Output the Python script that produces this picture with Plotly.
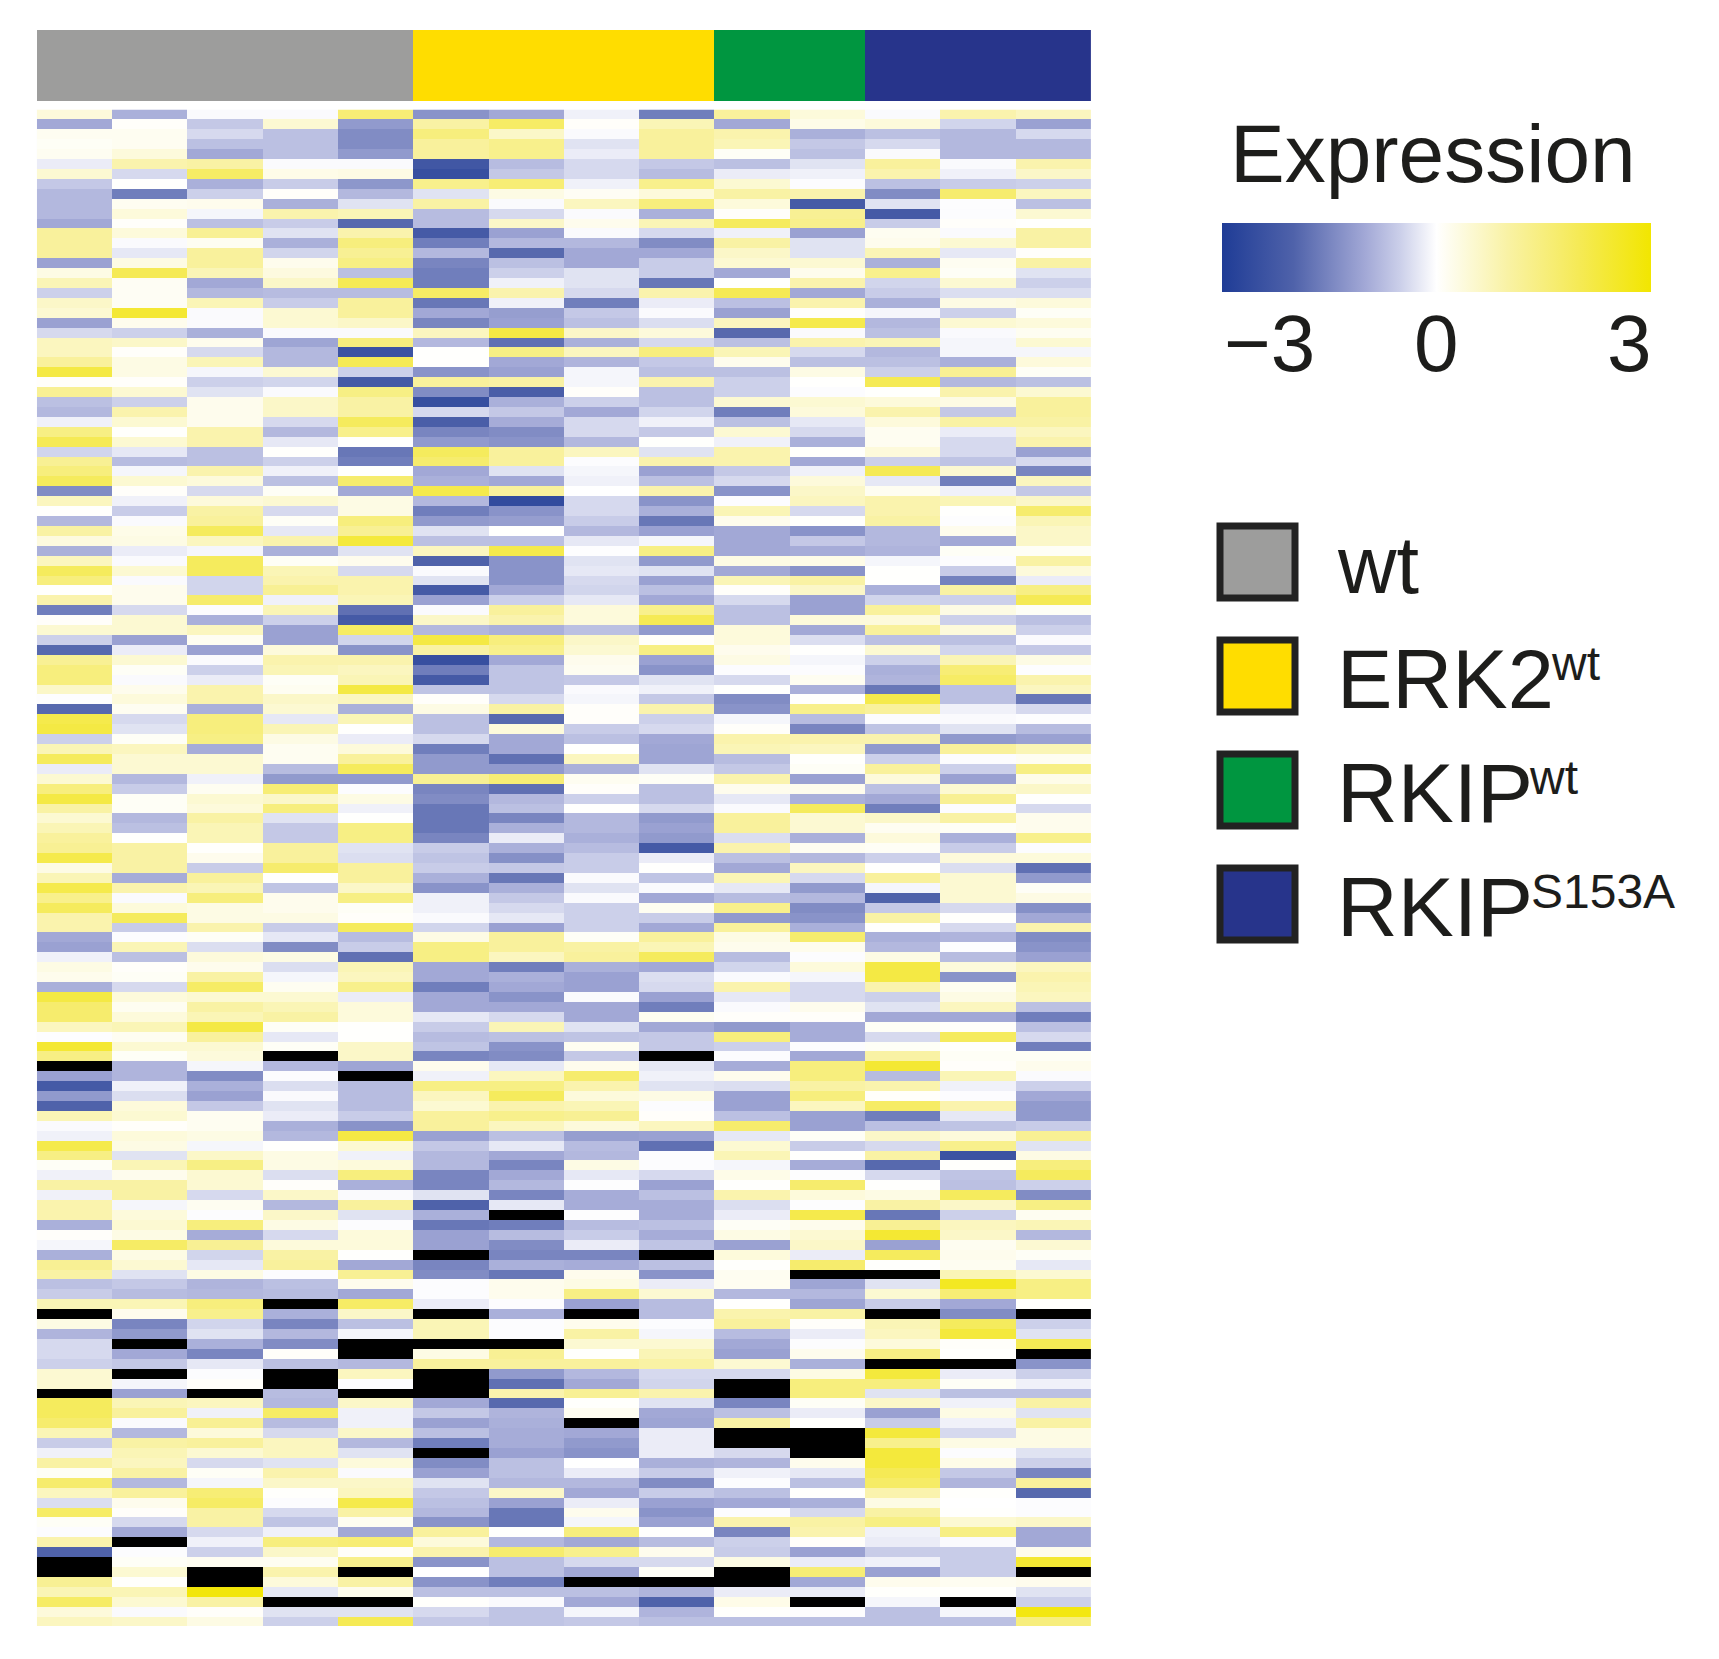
import plotly.graph_objects as go

W, H = 1703, 1643   # the page adds an 8 px margin on the left and the top
N = None  # missing value, drawn black

sample_00 = [.4,-1.0,.15,.1,.15,-.2,.5,-.6,-.8,-.8,-.8,-1.0,1.1,1.1,1.1,-1.1,.3,.8,-.5,.6,.5,-1.1,-.4,.7,.7,1.1,2.2,.05,1.2,-.7,-.8,
 -.15,1.4,2.0,-.45,1.2,1.5,1.9,-1.4,.7,.02,-.8,1.0,.35,-.9,.7,1.9,1.5,.02,.9,-1.6,.05,.5,-.5,-1.9,1.2,1.5,1.5,.6,-.02,-1.9,2.1,2.2,-.5,.8,1.9,-.2,.5,1.5,2.2,1.0,.5,.8,1.1,
 1.2,2.1,.3,.8,2.1,1.3,1.9,.9,.9,-1.0,-1.1,-.15,.3,.2,-.9,2.2,1.7,1.7,.7,-.02,2.4,1.4,N,-1.1,-2.2,-1.2,-2.0,.8,-.05,-.15,2.1,1.4,.1,-.15,1.0,-.15,.9,.9,-.9,.05,-.1,-.9,
 1.2,1.0,-.7,-.55,.8,N,.3,-.85,-.4,-.4,-.5,.5,.5,N,1.9,1.9,1.7,.8,-.55,-.15,1.0,.1,1.7,.7,-.35,1.8,.1,-.03,.9,-2.0,N,N,1.2,.8,1.8,.4,.7]
sample_01 = [-.9,.05,.15,.15,.4,.9,-.4,.02,-1.6,.15,.4,.05,.4,-.05,-.25,.3,2.0,.12,.12,.12,2.4,.2,-.5,.6,.05,.3,.3,.05,.5,-.5,.9,
 .5,.03,.5,-.25,-.75,-.1,.5,.05,-.15,-.55,-.05,.25,.3,-.2,-.05,.5,-.05,.2,.2,-.4,.5,.5,-1.1,-.2,.5,.1,-.05,.2,.4,.15,-.4,-.3,.1,.7,.5,.5,-.8,-.55,.1,.1,-.8,-.7,.02,
 1.0,1.0,1.0,-.95,.9,-.05,.4,1.9,-.55,-.03,.8,-.7,.05,.1,-.4,.4,.15,.4,.8,.15,.5,.1,-.85,-.85,-.15,-.35,.4,.5,.05,.4,.3,-.3,.8,.2,1.0,1.0,-.1,.4,.5,.3,1.8,.3,
 .5,-.3,-.6,-.75,.8,.2,-1.5,-1.2,N,-1.0,-.6,N,-.1,-1.1,.8,1.1,-.05,-.8,1.0,.8,.7,1.0,-.8,1.1,.2,.05,-.4,-1.0,N,-.03,.1,.5,.03,.8,.5,-.05,.6]
sample_02 = [-.05,-.6,-.4,-.7,-1.0,1.0,1.8,-.9,-.5,.2,-.1,-.7,1.2,.15,1.1,1.1,.8,-1.0,-.8,.8,-.05,-.05,-.9,.2,-.4,.8,-.1,-.5,-.3,.2,.2,
 .2,.9,.9,-.7,-.7,.9,.4,-.4,.4,1.0,1.1,1.9,.7,-.1,1.9,1.9,-.45,-.45,1.7,-.03,-.9,.7,.15,-1.1,-.05,-.5,-.2,.9,.9,-.9,1.5,1.5,1.4,-.95,.5,.5,-.15,.15,.5,.4,1.0,.8,.8,
 .03,.2,-.55,1.1,.8,1.5,.3,.3,.9,.1,-.35,.4,.2,1.0,1.8,.5,1.0,.8,2.2,1.1,.5,.4,-.1,-1.4,-.9,-1.1,-.6,.15,.15,.3,-.1,.6,1.4,.5,.5,-.4,.15,-.03,1.5,-.95,1.2,-.45,
 -.25,.3,-.85,-.8,1.5,1.3,-.45,-.3,-.9,-1.5,-.25,-.03,.05,N,.7,-.15,1.2,.4,1.1,.5,-.4,.1,-.1,1.6,1.8,1.0,1.0,-.4,-.15,-.5,.15,N,N,2.9,1.0,.05,.3]
sample_03 = [-.05,.5,-.7,-.7,-.7,-.05,.25,-.55,.05,-.9,.9,-.55,-.3,-.9,-.45,.2,.35,.6,-.75,-.55,.5,.5,-.05,-1.05,-.8,-.8,.5,-.45,-.05,.6,.6,
 -.4,-.8,-.25,.03,-.5,-.15,-.7,.1,.5,-.4,.1,-.25,.9,-.9,.1,.8,.9,1.2,-.15,.8,-.5,-1.1,-1.1,.4,.9,.8,.1,.15,.6,.5,-.25,.8,.3,.15,.15,-.75,-1.2,1.6,.6,1.5,-.3,-.6,-.6,
 1.1,1.1,1.7,.02,-.65,.2,.2,.3,-.55,-.25,-1.4,.3,-.35,-.1,.15,.5,.8,1.0,.1,-.25,.1,N,-.8,-.03,-.35,-.05,-.3,-.2,-.9,-.8,.02,.3,.3,-.35,.05,.6,-.8,.6,.3,-.4,.4,1.0,
 1.1,-.03,-.7,-.75,N,-.9,-1.5,-.8,-1.4,.05,-.7,N,N,-.75,-.8,1.8,-.75,-.4,.7,.7,-.3,.9,.6,.03,-.03,-.4,-.65,-.15,1.5,.6,.15,.9,.4,-.25,N,-.3,-.5]
sample_04 = [1.6,-1.2,-1.4,-1.4,-1.2,-.05,.3,-1.25,-.8,-.3,.8,-1.9,.9,1.5,1.2,1.4,-.7,2.0,-.75,1.1,1.1,.6,-.05,1.5,-2.4,2.0,-.5,-2.2,1.4,1.0,1.0,
 1.9,1.3,.02,-1.7,-1.6,.02,1.7,-1.0,.3,.3,1.5,1.2,2.3,-.3,.2,-.4,.9,.9,.8,-1.8,-2.2,1.8,-.45,-1.3,.9,.7,.8,2.2,.7,-.9,.8,.02,-.2,.4,1.1,1.9,-1.2,-.03,.3,-.15,.02,1.4,1.4,
 -.3,-.35,1.1,1.1,.6,1.4,.1,.05,1.9,-.75,-.55,-1.8,.8,.7,1.3,-.2,.4,.4,.02,.02,.6,.6,-1.05,N,-.75,-.75,-.75,-.55,-1.3,2.2,.5,-.15,.4,1.5,-.9,-.05,1.1,-.3,-.03,.4,.4,.02,
 -1.0,1.2,.2,-1.0,1.8,.6,-.7,-.1,N,N,-.8,.7,-.02,N,.6,-.15,-.15,.6,-.8,-.3,.4,-.05,.6,.7,2.1,1.0,.15,-1.0,1.6,.05,1.3,N,1.0,.2,N,-.3,2.0]
sample_05 = [-1.3,1.0,1.5,1.1,1.1,-2.3,-2.5,1.3,-.3,1.0,-.75,-.75,-2.2,-1.6,-.8,-1.5,-1.6,-1.6,1.8,-1.7,-1.0,-1.5,.7,-.8,.02,.02,-1.3,1.1,-1.4,-2.5,-.4,
 -2.1,-1.5,-1.2,1.9,1.7,-1.0,-.9,2.1,-.8,-1.6,-1.2,-.3,-.7,.7,-2.0,-.05,-.3,-2.2,-1.1,-.05,.6,-.8,2.2,1.0,-2.5,-1.6,-2.2,-.65,.05,.3,-.7,-.7,-.4,-1.6,-1.2,-1.2,1.2,-1.5,-1.4,-1.7,-1.7,-1.7,-1.5,
 -.55,-.65,-.55,-.9,-1.3,-.15,-.15,-.05,-.45,.3,1.4,1.4,-1.0,-1.0,-1.6,-1.0,-1.0,-.25,-.55,-.75,-.65,-1.5,.2,-.15,1.4,.7,.5,1.1,1.1,-1.1,-.6,-.8,-.8,-1.5,-1.5,-.3,-2.0,-.9,-1.7,-1.1,-1.1,N,
 -1.5,-1.4,-.03,-.03,-.2,N,.8,.8,N,.3,1.1,N,N,N,-1.0,-.6,-1.1,-.7,-1.6,N,-1.4,-1.1,-.3,-.6,-.7,-.8,-1.3,1.1,.4,.9,-1.3,.0,-1.3,-.7,.03,-.4,-.6]
sample_06 = [-1.0,1.8,.6,1.3,1.3,-.75,-.6,1.6,.3,-.05,-.4,.6,-1.1,-.8,-1.9,-.7,-.5,-.15,.9,-.15,-1.15,-1.1,2.2,-1.8,1.4,-1.0,-1.1,1.0,-2.1,-.9,-.6,
 -.95,-1.4,-1.3,1.1,1.1,-.3,-1.0,1.1,-2.6,-1.3,-1.15,.02,-.7,2.1,-1.3,-1.3,-1.3,-1.0,-.5,1.1,.9,-.9,1.5,1.3,-1.0,-.65,-.65,-.65,-.4,1.0,-1.9,.4,-1.0,-1.0,-1.8,-1.2,1.6,-1.8,-.8,-.7,-1.5,-.9,-.2,
 -.9,-1.35,-.6,-1.7,-.9,-.6,-.4,-.25,-1.1,1.1,1.1,.7,-1.6,-.9,-1.0,-1.3,-1.0,-.4,.8,-.7,-1.3,-1.4,-.25,.7,1.4,1.9,.9,1.3,.7,-.7,-.25,-1.0,-1.5,-1.0,-.8,-1.5,-.25,N,-1.6,-.75,-1.4,-1.5,
 -.9,-1.7,.2,.2,-.03,-.9,-.03,-.03,N,1.2,1.1,-1.2,-1.8,.9,-1.9,-.85,-.9,-.95,-.95,-1.1,-.7,-.7,-.8,.6,-1.1,-1.7,-1.7,.03,-.8,1.7,-.7,-.7,-1.6,-.7,-.05,-.65,-.65]
sample_07 = [-.15,.05,-.05,-.3,-.2,-.4,-.4,-.15,.12,.7,-.05,.2,-.05,-.8,-1.0,-1.0,-.3,-.3,-.4,-1.6,-.6,-.7,.6,-.9,.7,-.85,-.1,-.1,.05,-.5,-1.0,
 -.4,-.4,-.8,.7,-.03,-.1,-.15,.0,-.4,-.4,-.55,-.8,-.25,-.02,-.3,-.25,-.4,-.45,-.25,.4,.4,-.7,.6,.5,.2,.15,-.6,-.05,-.1,.05,.05,-.55,-.7,.02,.7,-.9,.15,.05,-.5,.02,-.8,-.8,-.9,
 -.75,-.55,-.55,-.05,-.3,-.05,-.5,-.5,-.5,.1,1.0,1.1,-.9,-1.1,-1.1,-.05,-1.0,-1.0,-.3,-.65,.15,-.6,.2,1.7,.9,.4,.8,1.2,.4,-1.15,-.75,-.8,.3,-.25,-.02,-.95,-.95,-.02,-.75,-.55,-.2,-1.5,
 -.95,.2,.3,1.4,-1.1,N,.2,1.0,.5,.02,1.1,-.8,-1.0,1.2,.03,.15,N,-1.0,-1.2,-1.3,.0,-.2,-.8,-1.0,-.2,.2,-.1,1.5,-1.0,1.3,-.4,-1.0,N,-.7,-1.0,-.1,-.6]
sample_08 = [-1.6,.8,1.1,1.1,1.1,-.6,-.75,1.3,.4,1.5,-.9,.8,-.4,-1.4,-1.0,-.55,-.55,-1.7,.9,-.2,-.05,-.35,.4,-.4,1.5,-.6,-.7,.9,-.7,-.7,-.45,
 -.15,-.6,.03,-.3,.9,-1.1,-.7,.9,-1.3,-.9,-1.7,-1.1,-.1,1.4,-1.2,-.3,-1.1,-.7,-1.0,1.3,2.0,-1.2,.05,1.4,-1.1,-1.3,-.3,-.15,-.6,.9,-.5,-.4,-1.0,-1.05,-1.05,-.3,.1,-.7,-.7,-.4,-1.2,-1.1,-1.2,
 -2.2,-.2,.02,-.65,-.05,-1.0,.15,-.55,-1.0,1.1,.8,1.9,-1.0,-.35,-.4,-1.1,-1.6,.15,-1.0,-.6,-.6,N,-.25,-.15,-.3,.3,-.03,.05,.7,-1.1,-1.8,-.03,-.03,-.4,-1.1,-.7,-.95,-.95,-.7,-.95,-.65,N,
 -.7,-1.3,-.2,.5,-.75,-.75,-.03,-.1,.5,.8,1.0,-.4,-.45,.9,-.3,-1.0,-1.05,-.2,-.2,-.2,-.9,-.55,-1.4,-.55,-1.1,-1.3,-1.1,.02,-.75,.2,-.4,.1,N,-.85,-2.0,-.85,-.7]
sample_09 = [1.1,-1.0,.9,.8,.1,-.7,-.2,.5,1.0,.4,.05,1.9,-.15,1.0,.6,.5,-1.0,.02,2.0,-.7,-1.1,.7,-1.9,-.7,.8,.2,-.7,-.5,-.5,.5,-1.6,
 -.7,.5,-.15,.9,.9,-.6,-.4,-1.3,-.03,.8,.2,-1.0,-1.0,-1.0,.3,-1.0,.8,.05,-.4,-.7,-.7,.4,.4,.2,.3,-.03,-.4,.02,-1.4,-1.3,-.1,.05,.9,.8,-.75,-.6,.9,.2,-.25,-.05,1.1,1.1,-.35,
 .9,-.7,-1.0,.8,-.25,-.75,1.3,-1.2,1.1,.3,.2,-.75,-.45,-.05,.9,-.25,-.05,.05,-1.2,1.5,-.5,-.03,-.95,.2,-.35,-1.1,-1.1,-.7,1.7,-.25,.5,.8,-.1,.25,.02,.9,-.35,-.2,.1,.3,-1.1,.4,
 .03,.15,.15,-.8,.02,.9,1.1,-.75,-1.0,-1.1,.5,-.4,N,N,-1.5,-.7,1.0,N,N,-.4,-.85,-.15,-.03,-.7,-1.0,-.03,.9,-1.5,-.5,-.55,.3,N,N,-.2,.25,.03,-.7]
sample_10 = [.4,.25,-.9,-.6,-.7,-.3,-.15,-.03,.9,-2.2,1.2,1.3,-1.1,-.3,-.3,.5,.2,.9,-1.0,.9,.05,2.1,-.05,.9,-.4,-.7,.3,.02,-.03,.5,.4,
 -.25,-.4,-.9,.03,-1.0,-.15,.4,.6,.7,-.4,.03,-1.3,-.6,-.95,.25,-1.3,1.0,.6,-1.1,-1.1,.4,-1.0,-.35,.02,-.1,-.03,.15,-.9,.02,1.3,-.75,-1.5,.9,.7,.03,.1,-1.1,.2,-.9,1.9,.5,.5,-.9,
 .15,-.8,.7,-.4,-1.2,-.8,-1.4,-1.3,-.9,1.7,.2,-.03,.4,-.1,-.4,-.4,.2,.05,-.95,-.95,-.03,-1.0,1.5,1.5,1.0,1.5,.7,-1.1,-1.1,.1,-.55,.02,-.95,-.02,1.7,.4,-.02,2.1,.2,.5,.6,-.2,
 1.7,N,-1.05,-.8,-1.05,1.0,.05,-.2,-.03,.2,-.9,.3,1.5,1.5,.1,-.2,.03,N,N,N,.2,-.25,-.7,.02,-.9,-.4,1.0,.9,.05,-1.1,-.2,1.6,-1.0,-.2,N,-.02,-.7]
sample_11 = [-.05,.4,-.7,-.4,-.05,1.1,.9,-.7,-1.4,-.3,-2.2,-.55,.15,.2,.8,-.9,1.3,-.45,-.55,-.9,-.1,-.8,-.7,.8,-.8,-.7,-.5,2.0,.02,.4,.9,
 .4,.15,.15,.4,-.5,2.0,-.25,.15,.9,.9,1.0,-.8,-.8,-.85,-.1,.02,.02,-.9,-.45,1.1,.4,1.1,-.7,.5,-.5,-.9,-.85,-1.7,2.1,1.1,-.03,-.65,.9,-1.2,-.5,1.1,.4,-.7,-1.0,-1.6,.6,.15,.4,
 .1,-.5,.02,1.1,-.1,-2.0,-.6,1.0,.03,-.9,-.8,.3,2.2,2.2,.9,-.5,-.3,-1.0,.1,-.4,.1,1.0,2.4,-.75,.9,.05,1.8,-1.6,-.7,.6,-.4,1.0,-1.9,-.4,.02,.3,1.0,-1.7,1.2,2.4,-1.1,1.9,
 .03,N,-.3,.5,-.55,N,.8,.7,.4,1.4,N,2.3,1.5,-.3,.6,-1.1,-.55,2.3,1.3,2.3,2.3,2.0,1.8,.9,.3,1.0,1.4,-.15,-.2,-.55,-.15,-1.1,.2,.03,-.1,-.7,-.7]
sample_12 = [.9,-.45,-.8,-.8,-.8,-.05,-.15,-.55,1.7,-.02,-.03,.05,-.05,.5,-.25,.15,.1,.5,-.35,.3,-.5,.5,-.05,-.1,-.1,-.9,1.2,-.8,.9,.3,-.6,
 1.0,-.2,-.4,-.4,-.65,.5,-1.6,-.15,.8,.02,-.02,.2,-1.0,.1,-.03,-.55,-1.55,1.0,-.5,.3,-.5,.4,-.7,-.45,.8,1.6,1.8,-.7,-.7,-.15,-.05,-.3,-1.2,1.1,-.03,-.5,-1.1,.5,1.2,-.03,1.0,.1,-.9,
 -.55,.4,-.35,.5,.5,.5,-.4,.03,-.4,-.85,-.02,-.75,.4,-1.3,.15,.3,.7,-1.0,.05,1.9,.03,.1,.05,.8,-.15,-.03,.9,-.25,-.65,.4,1.3,-2.4,.03,-.65,-.7,1.9,.6,-.5,.7,.6,.15,.2,
 .15,.8,2.6,1.6,-1.0,-1.4,1.9,2.3,.05,.02,N,-.2,.1,-.7,-.15,.3,-.15,-.4,.3,-.03,.25,-.6,-.85,.03,.0,.02,.5,1.4,-.05,-.55,-.55,-.55,.15,.03,N,-.1,-.7]
sample_13 = [.7,-1.1,-.4,-.8,-.8,.9,.6,-.5,.7,-.7,.5,.02,1.0,1.0,.05,1.0,-.3,-.5,-.35,.4,.1,.4,.15,.5,-.1,.4,.1,-.7,.5,1.1,1.1,
 1.0,.7,.9,-1.1,-.4,-1.5,.7,-.6,.6,1.7,.8,.6,.6,.1,1.0,.4,-.2,1.4,2.0,.1,-.7,-.5,-.05,-.6,.3,-.02,.9,.7,-1.7,-.4,-.02,-.75,-1.1,.8,.15,1.4,.25,.6,.02,-.4,.2,.2,1.3,
 -.03,.4,-1.8,-1.2,.1,.3,-1.35,-1.0,.9,-1.4,-1.3,-1.1,.7,.9,.8,.7,-.7,-1.6,-.7,-.4,-1.6,.1,.2,-.05,-.5,-1.0,-1.2,-1.2,-.55,1.2,-.3,.3,1.5,1.9,-.5,-1.4,1.4,.15,.8,-.8,.5,.1,
 -.25,.5,1.4,1.4,.03,N,-.5,-.3,2.0,N,-1.3,-.5,-.15,-.7,1.0,-.3,1.0,.3,.3,-.3,-.5,-1.5,1.1,-1.9,-.03,-.03,.6,-1.0,-1.0,.2,2.4,N,.2,-.3,-.5,2.8,1.5]

samples = [sample_00, sample_01, sample_02, sample_03, sample_04, sample_05, sample_06,
           sample_07, sample_08, sample_09, sample_10, sample_11, sample_12, sample_13]
lengths = [len(s) for s in samples]
if len(set(lengths)) != 1:
    raise SystemExit(f"column lengths differ: {lengths}")

genes = list(range(lengths[0]))
group_of_sample = [0, 0, 0, 0, 0, 1, 1, 1, 1, 2, 2, 3, 3, 3]
group_names = ["wt", "ERK2", "RKIP", "RKIP"]
group_sups = ["", "wt", "wt", "S153A"]
group_colors = ["#9d9d9c", "#ffdd00", "#009640", "#27348b"]
tick_labels = ["\u22123", "0", "3"]
TXT = "#1d1d1b"
FONT = "Liberation Sans, Arial, sans-serif"

def px(x):
    return (x - 8) / W
def py(y):
    return 1 - (y - 8) / H

rows = [[samples[c][r] for c in range(14)] for r in genes]
missing = [[1 if samples[c][r] is None else None for c in range(14)] for r in genes]
scale = [[0, "#1f3c96"], [1/6, "#4f62aa"], [1/3, "#a2a8d6"], [5/12, "#ccd0ea"], [.5, "#ffffff"],
         [2/3, "#f9f2a4"], [5/6, "#f5ea55"], [1, "#f2e600"]]

fig = go.Figure()
fig.add_trace(go.Heatmap(
    z=rows, zmin=-3, zmax=3, colorscale=scale, xaxis="x", yaxis="y", hoverongaps=False,
    colorbar=dict(orientation="h", thicknessmode="pixels", thickness=69, lenmode="pixels", len=429,
                  x=px(1222), xanchor="left", y=py(222.5), yanchor="top", xpad=0, ypad=0,
                  outlinewidth=0, showticklabels=False, ticks=""),
))
fig.add_trace(go.Heatmap(
    z=missing, zmin=0, zmax=1, colorscale=[[0, "#000000"], [1, "#000000"]], showscale=False,
    xaxis="x", yaxis="y", hoverongaps=False,
))
n_g = len(group_colors)
bar_scale = []
for i, col in enumerate(group_colors):
    bar_scale += [[i / n_g, col], [(i + 1) / n_g, col]]
fig.add_trace(go.Heatmap(
    z=[group_of_sample], zmin=-.5, zmax=n_g - .5, colorscale=bar_scale, showscale=False,
    xaxis="x2", yaxis="y2",
))

annotations = []
def text(x, y, s, size, anchor="left"):
    annotations.append(dict(xref="paper", yref="paper", x=px(x), y=py(y), text=s, showarrow=False,
                            xanchor=anchor, yanchor="middle", align=anchor,
                            font=dict(family=FONT, size=size, color=TXT)))

text(1433, 153, "Expression", 82, "center")
for xc, lab in zip([1269, 1436, 1629], tick_labels):
    text(xc, 344, lab, 80, "center")

swatch_tops = [523, 637, 751, 865]
name_x = [1335, 1335, 1335, 1335]
name_size = [81, 83, 84, 84]
sup_x = [0, 1549, 1527, 1529]
shapes = []
for i, top in enumerate(swatch_tops):
    shapes.append(dict(type="rect", xref="paper", yref="paper", x0=px(1220), x1=px(1295),
                       y0=py(top + 3), y1=py(top + 75), fillcolor=group_colors[i],
                       line=dict(color="#222222", width=7)))
    text(name_x[i], top + 42, group_names[i], name_size[i])
    if group_sups[i]:
        text(sup_x[i], top + 26, group_sups[i], 48)

fig.update_layout(
    width=W, height=H, margin=dict(l=0, r=0, t=0, b=0), autosize=False,
    paper_bgcolor="white", plot_bgcolor="white", showlegend=False,
    xaxis=dict(domain=[px(36.9), px(1091)], visible=False, anchor="y"),
    yaxis=dict(domain=[py(1626), py(109.5)], visible=False, autorange="reversed", anchor="x"),
    xaxis2=dict(domain=[px(36.9), px(1091)], visible=False, anchor="y2"),
    yaxis2=dict(domain=[py(101), py(30)], visible=False, anchor="x2"),
    annotations=annotations, shapes=shapes,
)
fig.write_html("out.html")
